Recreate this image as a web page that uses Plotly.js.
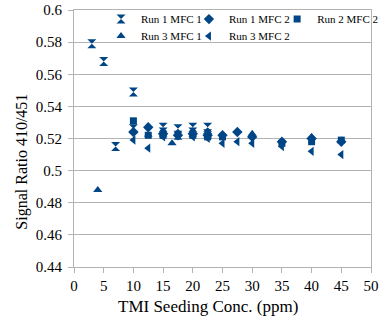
<!DOCTYPE html>
<html>
<head>
<meta charset="utf-8">
<script src="https://cdn.plot.ly/plotly-3.0.1.min.js"></script>
<style>html,body{margin:0;padding:0;background:#fff;}#chart{width:381px;height:330px;}</style>
</head>
<body>
<div id="chart"></div>
<script>
// Data
const seriesNames = ["Run 1 MFC 1", "Run 1 MFC 2", "Run 2 MFC 2", "Run 3 MFC 1", "Run 3 MFC 2"];

const run1mfc1X = [3, 5, 7, 10, 10, 12.5, 15, 15, 17.5, 17.5, 20, 20, 22.5, 22.5];
const run1mfc1Y = [0.579, 0.568, 0.515, 0.549, 0.526, 0.524, 0.527, 0.524, 0.526, 0.522, 0.527, 0.524, 0.527, 0.523];

const run1mfc2X = [10, 12.5, 15, 17.5, 20, 22.5, 25, 27.5, 30, 35, 40, 45];
const run1mfc2Y = [0.524, 0.527, 0.523, 0.522, 0.523, 0.522, 0.522, 0.524, 0.521, 0.518, 0.520, 0.518];

const run2mfc2X = [10, 12.5, 15, 20, 22.5, 25, 35, 40, 45];
const run2mfc2Y = [0.531, 0.522, 0.522, 0.522, 0.521, 0.521, 0.517, 0.518, 0.519];

const run3mfc1X = [4, 16.5, 22.5, 30, 40];
const run3mfc1Y = [0.488, 0.517, 0.524, 0.523, 0.521];

const run3mfc2X = [10, 12.5, 15, 20, 22.5, 25, 27.5, 30, 35, 40, 45];
const run3mfc2Y = [0.519, 0.514, 0.521, 0.521, 0.520, 0.517, 0.518, 0.517, 0.515, 0.512, 0.510];

const xTickVals = [0, 5, 10, 15, 20, 25, 30, 35, 40, 45, 50];
const yTickVals = [0.44, 0.46, 0.48, 0.5, 0.52, 0.54, 0.56, 0.58, 0.6];
const yTickText = ["0.44", "0.46", "0.48", "0.5", "0.52", "0.54", "0.56", "0.58", "0.6"];

const xTitle = "TMI Seeding Conc. (ppm)";
const yTitle = "Signal Ratio 410/451";

const color = "#004586";
const font = "Liberation Serif, Times New Roman, serif";

const symbols = ["hourglass", "diamond", "square", "triangle-up", "triangle-left"];
const sizes = [9, 8, 7, 8, 8];
const legendIds = ["legend", "legend2", "legend3", "legend4", "legend5"];
const xs = [run1mfc1X, run1mfc2X, run2mfc2X, run3mfc1X, run3mfc2X];
const ys = [run1mfc1Y, run1mfc2Y, run2mfc2Y, run3mfc1Y, run3mfc2Y];

const traces = seriesNames.map((n, i) => ({
  type: "scatter", mode: "markers", name: n, x: xs[i], y: ys[i], legend: legendIds[i],
  marker: {symbol: symbols[i], color: color, size: sizes[i], line: {width: 0}}
}));

function leg(x, y) {
  return {
    orientation: "v", x: x, y: y, xanchor: "left", yanchor: "top",
    font: {family: font, size: 11, color: "#000"},
    bgcolor: "rgba(0,0,0,0)", tracegroupgap: 0, itemwidth: 30, borderwidth: 0
  };
}

const layout = {
  width: 381, height: 330,
  margin: {l: 74, r: 10, t: 9.5, b: 63, autoexpand: false},
  paper_bgcolor: "#fff", plot_bgcolor: "#fff",
  font: {family: font, color: "#000", size: 15},
  showlegend: true,
  legend: leg(0.091, 1.021),
  legend2: leg(0.387, 1.021),
  legend3: leg(0.684, 1.021),
  legend4: leg(0.091, 0.955),
  legend5: leg(0.387, 0.955),
  xaxis: {
    range: [0, 50], tickvals: xTickVals, showgrid: false, zeroline: false,
    showline: true, linecolor: "#b3b3b3", linewidth: 1, mirror: true,
    ticks: "outside", ticklen: 5, tickcolor: "#b3b3b3",
    tickfont: {family: font, size: 15, color: "#000"}
  },
  yaxis: {
    range: [0.44, 0.6], tickvals: yTickVals, ticktext: yTickText,
    showgrid: true, gridcolor: "#b3b3b3", zeroline: false,
    showline: true, linecolor: "#b3b3b3", linewidth: 1, mirror: true,
    ticks: "outside", ticklen: 5, tickcolor: "#b3b3b3", ticklabelstandoff: 3,
    tickfont: {family: font, size: 15, color: "#000"}
  },
  annotations: [
    {text: xTitle, xref: "paper", yref: "paper", x: 0.45, y: -0.155, xanchor: "center", yanchor: "middle",
     showarrow: false, font: {family: font, size: 17, color: "#000"}},
    {text: yTitle, xref: "paper", yref: "paper", x: -0.175, y: 0.41, xanchor: "center", yanchor: "middle",
     textangle: -90, showarrow: false, font: {family: font, size: 16, color: "#000"}}
  ]
};

Plotly.newPlot("chart", traces, layout, {displayModeBar: false, staticPlot: true});
</script>
</body>
</html>
